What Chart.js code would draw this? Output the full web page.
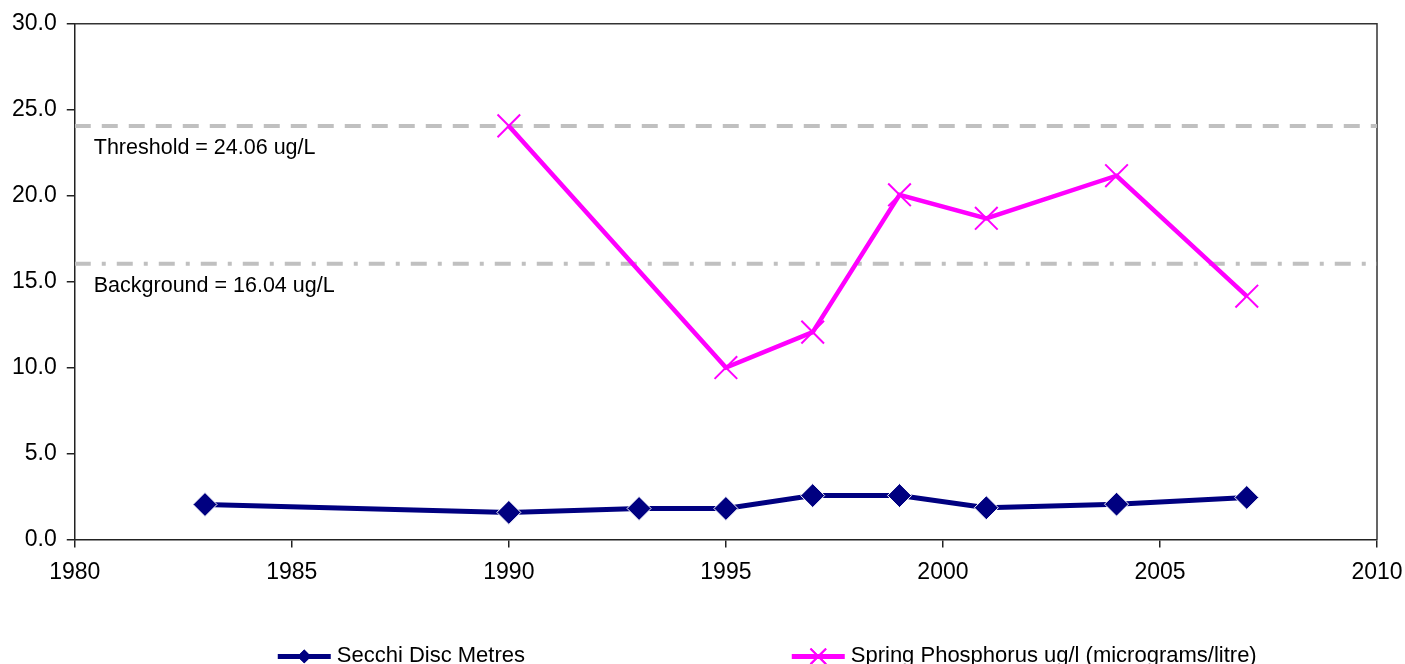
<!DOCTYPE html>
<html>
<head>
<meta charset="utf-8">
<title>Secchi Disc and Spring Phosphorus</title>
<script src="https://cdn.jsdelivr.net/npm/chart.js@4.4.1/dist/chart.umd.min.js"></script>
<style>
  html, body { margin: 0; padding: 0; background: #fff; }
  #wrap { width: 1405px; height: 664px; position: relative; }
</style>
</head>
<body>
<div id="wrap"><canvas id="myChart"></canvas></div>
<script>
// Datos
const secchiYears = [1983, 1990, 1993, 1995, 1997, 1999, 2001, 2004, 2007];
const secchiMetres = [2.03, 1.57, 1.80, 1.80, 2.55, 2.55, 1.84, 2.05, 2.44];

const phosYears = [1990, 1995, 1997, 1999, 2001, 2004, 2007];
const phosValues = [24.06, 10.0, 12.06, 20.05, 18.68, 21.16, 14.15];

const refYears = [1980, 2010];
const threshold = 24.06;
const background = 16.04;

const seriesLabels = ['Secchi Disc Metres', 'Spring Phosphorus ug/l (micrograms/litre)'];
const refLabels = ['Threshold = 24.06 ug/L', 'Background = 16.04 ug/L'];

const xTicks = [1980, 1985, 1990, 1995, 2000, 2005, 2010];
const yTicks = [0, 5, 10, 15, 20, 25, 30];

const FONT = "'Liberation Sans', Arial, sans-serif";
const NAVY = '#000080';
const MAGENTA = '#FF00FF';
const GREY = '#C0C0C0';

const toPoints = (xs, ys) => xs.map((x, i) => ({ x: x, y: ys[i] }));

// marco del area de trazado (arriba y derecha)
const plotBorder = {
    id: 'plotBorder',
    beforeDatasetsDraw(chart) {
        const { ctx, chartArea: a } = chart;
        ctx.save();
        ctx.strokeStyle = '#333';
        ctx.lineWidth = 1.5;
        ctx.beginPath();
        ctx.moveTo(a.left, a.top);
        ctx.lineTo(a.right, a.top);
        ctx.lineTo(a.right, a.bottom);
        ctx.stroke();
        ctx.restore();
    }
};

// etiquetas de las lineas de referencia
const refText = {
    id: 'refText',
    afterDatasetsDraw(chart) {
        const { ctx, chartArea: a, scales } = chart;
        ctx.save();
        ctx.font = '21.5px ' + FONT;
        ctx.fillStyle = '#000';
        ctx.textBaseline = 'middle';
        ctx.textAlign = 'left';
        [threshold, background].forEach((v, i) => {
            ctx.fillText(refLabels[i], a.left + 19, scales.y.getPixelForValue(v) + 22);
        });
        ctx.restore();
    }
};

// leyenda estilo Excel: linea + marcador
const excelLegend = {
    id: 'excelLegend',
    afterDraw(chart) {
        const { ctx, chartArea: a } = chart;
        const y = a.bottom + 117;
        const items = [
            { x: a.left + 203, color: NAVY, marker: 'rectRot', r: 5.5, fill: true, label: seriesLabels[0] },
            { x: a.left + 717, color: MAGENTA, marker: 'crossRot', r: 11, fill: false, label: seriesLabels[1] }
        ];
        ctx.save();
        ctx.font = '22px ' + FONT;
        ctx.textBaseline = 'middle';
        items.forEach(it => {
            ctx.strokeStyle = it.color;
            ctx.lineWidth = 5;
            ctx.beginPath();
            ctx.moveTo(it.x, y);
            ctx.lineTo(it.x + 53, y);
            ctx.stroke();
            ctx.fillStyle = it.color;
            ctx.lineWidth = 2;
            Chart.helpers.drawPoint(ctx, {
                pointStyle: it.marker,
                radius: it.r,
                borderWidth: 2,
                rotation: 0
            }, it.x + 26.5, y);
            if (it.fill) ctx.fill();
            ctx.stroke();
            ctx.fillStyle = '#000';
            ctx.fillText(it.label, it.x + 59, y);
        });
        ctx.restore();
    }
};

const ctx = document.getElementById('myChart').getContext('2d');

new Chart(ctx, {
    type: 'line',
    data: {
        datasets: [
            {
                label: seriesLabels[0],
                data: toPoints(secchiYears, secchiMetres),
                borderColor: NAVY,
                backgroundColor: NAVY,
                borderWidth: 5,
                pointStyle: 'rectRot',
                pointRadius: 12,
                pointBorderWidth: 1,
                pointBorderColor: '#fff',
                order: 1
            },
            {
                label: seriesLabels[1],
                data: toPoints(phosYears, phosValues),
                borderColor: MAGENTA,
                backgroundColor: MAGENTA,
                borderWidth: 4.5,
                pointStyle: 'crossRot',
                pointRadius: 16,
                pointBorderWidth: 2,
                order: 2
            },
            {
                label: refLabels[0],
                data: toPoints(refYears, [threshold, threshold]),
                borderColor: GREY,
                borderWidth: 4,
                borderDash: [16, 11],
                pointRadius: 0,
                order: 3
            },
            {
                label: refLabels[1],
                data: toPoints(refYears, [background, background]),
                borderColor: GREY,
                borderWidth: 4,
                borderDash: [16, 11, 4, 11],
                pointRadius: 0,
                order: 4
            }
        ]
    },
    options: {
        responsive: true,
        maintainAspectRatio: false,
        animation: false,
        layout: {
            padding: { top: 23, right: 28, bottom: 67, left: 2 }
        },
        elements: {
            line: { tension: 0, fill: false }
        },
        plugins: {
            legend: { display: false },
            tooltip: { enabled: false }
        },
        scales: {
            x: {
                type: 'linear',
                min: 1980,
                max: 2010,
                afterBuildTicks: axis => { axis.ticks = xTicks.map(v => ({ value: v })); },
                afterFit: axis => { axis.paddingRight = 0; axis.paddingLeft = 0; },
                ticks: {
                    padding: 11,
                    color: '#000',
                    font: { family: FONT, size: 23 },
                    maxRotation: 0,
                    callback: v => String(v)
                },
                grid: { drawOnChartArea: false, tickLength: 8, color: '#222', lineWidth: 1.5 },
                border: { display: true, color: '#222', width: 1.5 }
            },
            y: {
                min: 0,
                max: 30,
                afterBuildTicks: axis => { axis.ticks = yTicks.map(v => ({ value: v })); },
                ticks: {
                    padding: 10,
                    color: '#000',
                    font: { family: FONT, size: 23 },
                    callback: v => Number(v).toFixed(1)
                },
                grid: { drawOnChartArea: false, tickLength: 8, color: '#222', lineWidth: 1.5 },
                border: { display: true, color: '#222', width: 1.5 }
            }
        }
    },
    plugins: [plotBorder, refText, excelLegend]
});
</script>
</body>
</html>
